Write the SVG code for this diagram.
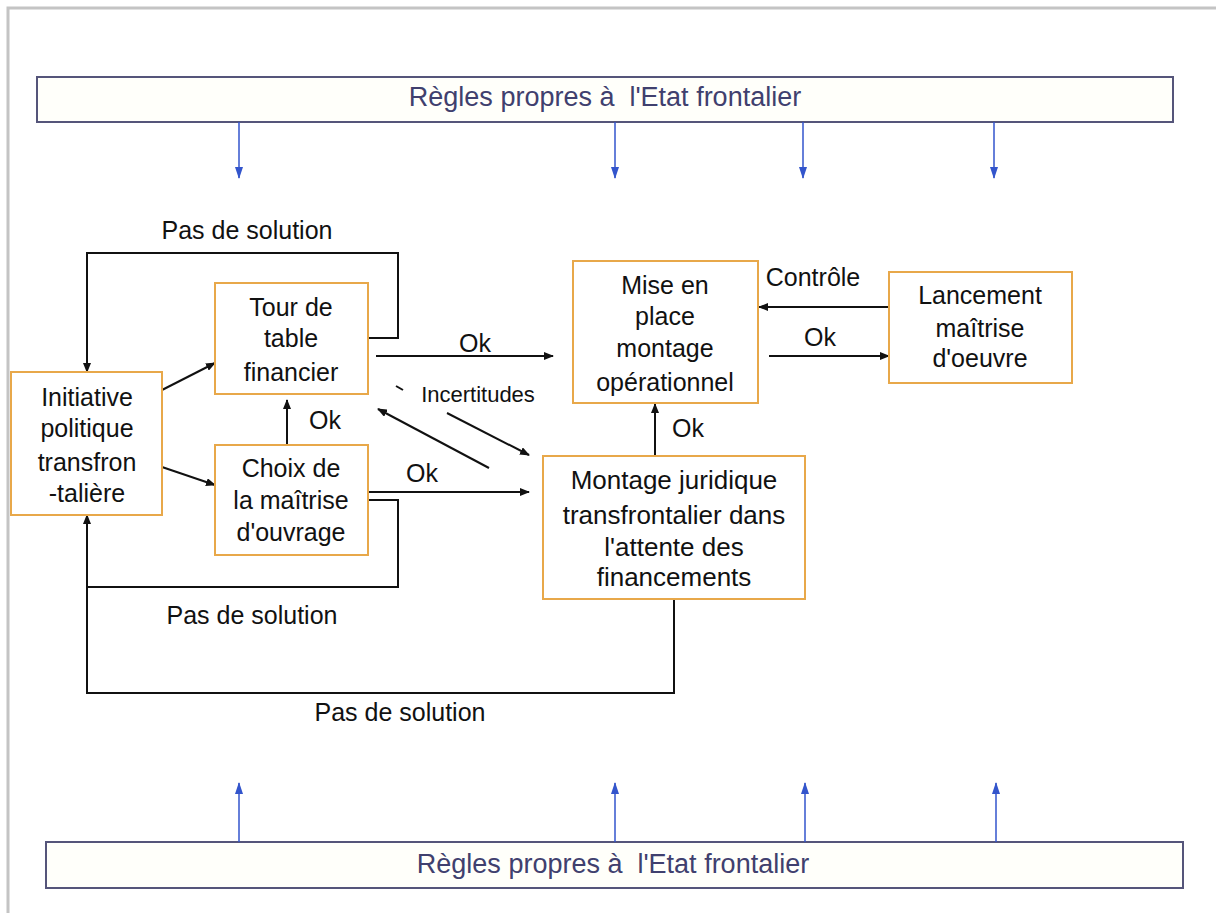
<svg xmlns="http://www.w3.org/2000/svg" width="1216" height="913" viewBox="0 0 1216 913">
<style>
.rule{fill:#fffffa;stroke:#55557a;stroke-width:2}
.rt{font-family:"Liberation Sans",Arial,sans-serif;font-size:27px;fill:#40406e;text-anchor:middle;white-space:pre}
.node{fill:#ffffff;stroke:#e8a84a;stroke-width:2}
.nt{font-family:"Liberation Sans",Arial,sans-serif;font-size:25px;fill:#111;text-anchor:middle}
.nt2{font-family:"Liberation Sans",Arial,sans-serif;font-size:26px;fill:#111;text-anchor:middle}
.lbl{font-family:"Liberation Sans",Arial,sans-serif;font-size:25px;fill:#111;text-anchor:middle}
.sm{font-family:"Liberation Sans",Arial,sans-serif;font-size:22px;fill:#111;text-anchor:middle}
.c{fill:none;stroke:#111;stroke-width:2}
.b{fill:none;stroke:#3355cc;stroke-width:1.5}
</style>
<defs>
<marker id="ah" markerWidth="10" markerHeight="8" refX="9" refY="4" orient="auto" markerUnits="userSpaceOnUse"><path d="M0,0 L10,4 L0,8 Z" fill="#111"/></marker>
<marker id="bh" markerWidth="12" markerHeight="8" refX="11" refY="4" orient="auto" markerUnits="userSpaceOnUse"><path d="M0,0 L12,4 L0,8 Z" fill="#3355cc"/></marker>
</defs>
<rect width="1216" height="913" fill="#fff"/>
<path d="M8,913 V8 H1216" fill="none" stroke="#c4c4c4" stroke-width="3"/>

<g id="rules-top">
<rect class="rule" x="37" y="77" width="1136" height="45"/>
<text class="rt" x="605" y="106" xml:space="preserve">Règles propres à  l'Etat frontalier</text>
</g>
<g id="rules-bottom">
<rect class="rule" x="46" y="842" width="1137" height="46"/>
<text class="rt" x="613" y="873" xml:space="preserve">Règles propres à  l'Etat frontalier</text>
</g>

<g id="connectors">
<g id="blue-arrows">
<line class="b" x1="239" y1="122" x2="239" y2="178" marker-end="url(#bh)"/>
<line class="b" x1="615" y1="122" x2="615" y2="178" marker-end="url(#bh)"/>
<line class="b" x1="803" y1="122" x2="803" y2="178" marker-end="url(#bh)"/>
<line class="b" x1="994" y1="122" x2="994" y2="178" marker-end="url(#bh)"/>
<line class="b" x1="239" y1="842" x2="239" y2="783" marker-end="url(#bh)"/>
<line class="b" x1="615" y1="842" x2="615" y2="783" marker-end="url(#bh)"/>
<line class="b" x1="805" y1="842" x2="805" y2="783" marker-end="url(#bh)"/>
<line class="b" x1="996" y1="842" x2="996" y2="783" marker-end="url(#bh)"/>
</g>
<path class="c" d="M368,338 H398 V253 H87 V372" marker-end="url(#ah)"/>
<path class="c" d="M360,500 H398 V587 H87"/>
<path class="c" d="M674,599 V693 H87 V515" marker-end="url(#ah)"/>
<line class="c" x1="162" y1="390" x2="215" y2="363" marker-end="url(#ah)"/>
<line class="c" x1="162" y1="467" x2="215" y2="485" marker-end="url(#ah)"/>
<line class="c" x1="287" y1="445" x2="287" y2="400" marker-end="url(#ah)"/>
<line class="c" x1="376" y1="356" x2="553" y2="356" marker-end="url(#ah)"/>
<line class="c" x1="360" y1="492" x2="529" y2="492" marker-end="url(#ah)"/>
<line class="c" x1="447" y1="413" x2="529" y2="455" marker-end="url(#ah)"/>
<line class="c" x1="489" y1="468" x2="378" y2="409" marker-end="url(#ah)"/>
<line class="c" x1="396" y1="386" x2="403" y2="390"/>
<line class="c" x1="655" y1="456" x2="655" y2="404" marker-end="url(#ah)"/>
<line class="c" x1="889" y1="307" x2="759" y2="307" marker-end="url(#ah)"/>
<line class="c" x1="769" y1="356" x2="889" y2="356" marker-end="url(#ah)"/>
<text class="lbl" x="247" y="239">Pas de solution</text>
<text class="lbl" x="252" y="624">Pas de solution</text>
<text class="lbl" x="400" y="721">Pas de solution</text>
<text class="lbl" x="325" y="429">Ok</text>
<text class="lbl" x="475" y="352">Ok</text>
<text class="lbl" x="422" y="482">Ok</text>
<text class="lbl" x="688" y="437">Ok</text>
<text class="lbl" x="820" y="346">Ok</text>
<text class="lbl" x="813" y="286">Contrôle</text>
<text class="sm" x="478" y="402">Incertitudes</text>
</g>

<g id="initiative">
<rect class="node" x="11" y="372" width="151" height="143"/>
<text class="nt" x="87" y="406">Initiative</text>
<text class="nt" x="87" y="437">politique</text>
<text class="nt" x="87" y="471">transfron</text>
<text class="nt" x="87" y="502">-talière</text>
</g>
<g id="tour">
<rect class="node" x="215" y="283" width="153" height="111"/>
<text class="nt" x="291" y="316">Tour de</text>
<text class="nt" x="291" y="347">table</text>
<text class="nt" x="291" y="381">financier</text>
</g>
<g id="choix">
<rect class="node" x="215" y="445" width="153" height="110"/>
<text class="nt" x="291" y="477">Choix de</text>
<text class="nt" x="291" y="509">la maîtrise</text>
<text class="nt" x="291" y="541">d'ouvrage</text>
</g>
<g id="mise">
<rect class="node" x="573" y="261" width="185" height="142"/>
<text class="nt" x="665" y="294">Mise en</text>
<text class="nt" x="665" y="325">place</text>
<text class="nt" x="665" y="357">montage</text>
<text class="nt" x="665" y="391">opérationnel</text>
</g>
<g id="montage">
<rect class="node" x="543" y="456" width="262" height="143"/>
<text class="nt2" x="674" y="489">Montage juridique</text>
<text class="nt2" x="674" y="524">transfrontalier dans</text>
<text class="nt2" x="674" y="556">l'attente des</text>
<text class="nt2" x="674" y="586">financements</text>
</g>
<g id="lancement">
<rect class="node" x="889" y="272" width="183" height="111"/>
<text class="nt" x="980" y="304">Lancement</text>
<text class="nt" x="980" y="337">maîtrise</text>
<text class="nt" x="980" y="367">d'oeuvre</text>
</g>
</svg>
